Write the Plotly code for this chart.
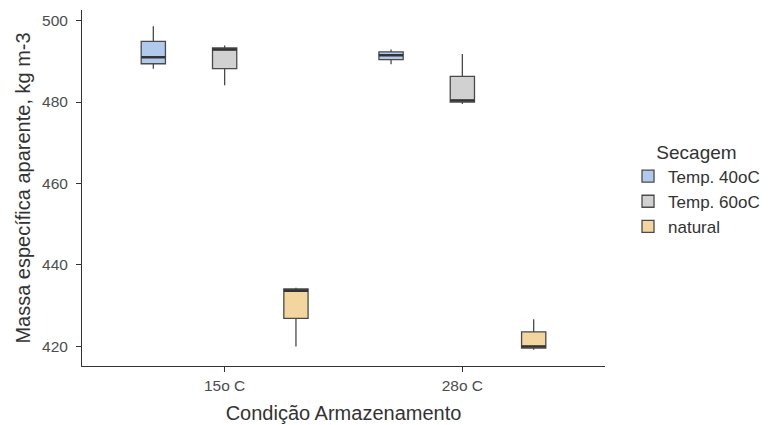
import plotly.graph_objects as go

categories = ["15o C", "28o C"]
groups = ["Temp. 40oC", "Temp. 60oC", "natural"]
fills = ["#B2C9EE", "#D1D1D1", "#F3D59F"]

q1 = {"Temp. 40oC": [489.4, 490.4], "Temp. 60oC": [488.2, 480.0], "natural": [426.9, 419.6]}
median = {"Temp. 40oC": [491.0, 491.5], "Temp. 60oC": [492.9, 480.4], "natural": [433.7, 420.0]}
q3 = {"Temp. 40oC": [494.9, 492.3], "Temp. 60oC": [493.3, 486.3], "natural": [434.1, 423.6]}
low = {"Temp. 40oC": [488.2, 489.3], "Temp. 60oC": [484.1, 479.5], "natural": [420.0, 419.2]}
high = {"Temp. 40oC": [498.6, 492.9], "Temp. 60oC": [493.9, 491.8], "natural": [434.4, 426.7]}

y_ticks = [420, 440, 460, 480, 500]

fig = go.Figure()
for g, c in zip(groups, fills):
    fig.add_trace(go.Box(
        name=g, x=categories, offsetgroup=g,
        q1=q1[g], median=median[g], q3=q3[g],
        lowerfence=low[g], upperfence=high[g],
        fillcolor=c, line=dict(color="#4a4a4a", width=1.3),
        whiskerwidth=0, boxpoints=False, hoverinfo="skip",
    ))
# thicker median bar, as in ggplot2
for g in groups:
    fig.add_trace(go.Box(
        name=g, x=categories, offsetgroup=g, showlegend=False,
        q1=median[g], median=median[g], q3=median[g],
        lowerfence=median[g], upperfence=median[g],
        fillcolor="rgba(0,0,0,0)", line=dict(color="#333333", width=2.6),
        whiskerwidth=0, boxpoints=False, hoverinfo="skip",
    ))

FONT = "Arial, Liberation Sans, sans-serif"
axis_font = dict(family=FONT, size=15.5, color="#4d4d4d")
# the page body has an 8px margin, so the figure is drawn 8px smaller
fig.update_layout(
    width=774, height=417,
    margin=dict(l=74, r=177, t=2, b=59),
    paper_bgcolor="white", plot_bgcolor="white",
    boxmode="group", boxgap=0.1, boxgroupgap=0.66,
    font=dict(family=FONT, size=16, color="#333333"),
    xaxis=dict(
        range=[-0.6, 1.6], showline=True, linecolor="#333333", linewidth=1,
        ticks="outside", ticklen=5, tickcolor="#333333", tickfont=axis_font,
        title=dict(text="Condição Armazenamento", font=dict(size=20, color="#333333"), standoff=13),
        showgrid=False, zeroline=False, automargin=False,
    ),
    yaxis=dict(
        range=[415.2, 502.6], showline=True, linecolor="#333333", linewidth=1,
        ticks="outside", ticklen=5, tickcolor="#333333", tickfont=axis_font,
        tickvals=y_ticks, ticklabelstandoff=5,
        title=dict(text="Massa específica aparente, kg m-3", font=dict(size=20, color="#333333"), standoff=6),
        showgrid=False, zeroline=False, automargin=False,
    ),
    legend=dict(
        title=dict(text="Secagem", font=dict(size=19, color="#333333"), side="top center"),
        x=1.044, y=0.652, xanchor="left", yanchor="top",
        font=dict(size=17, color="#333333"), tracegroupgap=0,
    ),
)

fig.write_html("out.html")
